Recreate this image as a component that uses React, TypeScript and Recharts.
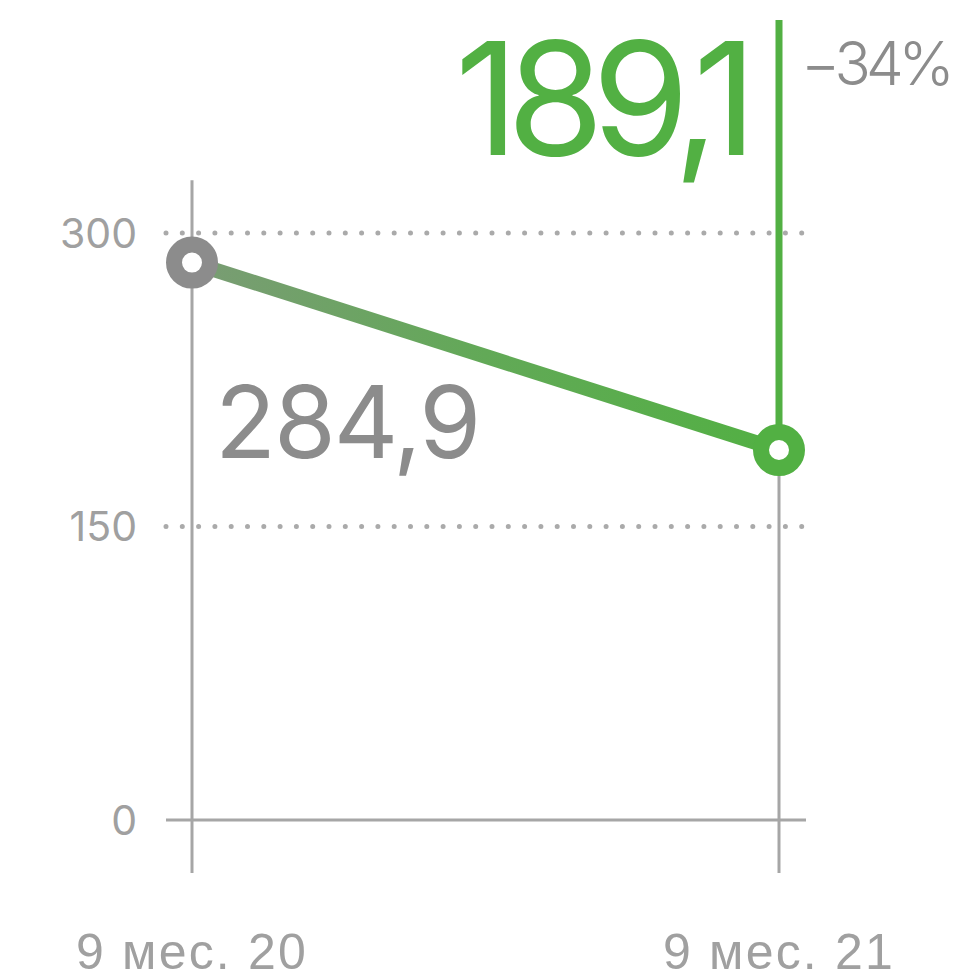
import { LineChart, Line, XAxis, YAxis, CartesianGrid, ReferenceLine, LabelList } from "recharts";

const categories = ["9 мес. 20", "9 мес. 21"];
const values = [284.9, 189.1];
const yTicks = [0, 150, 300];
const gridValues = [150, 300];
const dotColors = ["#8c8c8c", "#52b043"];

const Y_MAX = 408.9;
const FIRST_GUIDE_TOP = 327;

const GRAY = "#8c8c8c";
const LIGHT_GRAY = "#a0a0a0";
const AXIS_GRAY = "#a6a6a6";
const GREEN = "#52b043";
const NUM_FONT = "Inter, Roboto, sans-serif";

const data = categories.map((name, i) => ({ name, value: values[i] }));

const fmt = (v: number) => v.toFixed(1).replace(".", ",");
const change = Math.round((values[1] / values[0] - 1) * 100);
const changeText = `${change < 0 ? "\u2212" : "+"}${Math.abs(change)}%`;

function RingDot(props: any) {
  const { cx, cy, index } = props;
  if (cx == null || cy == null) return null;
  return <circle cx={cx} cy={cy} r={18} fill="#fff" stroke={dotColors[index]} strokeWidth={16} />;
}

function ValueLabel(props: any) {
  const { x, y, value, index } = props;
  if (index === 0) {
    return (
      <text x={x + 23} y={y + 195} fontSize={100} fontFamily={NUM_FONT} fill={GRAY} letterSpacing={-2}>
        {fmt(value)}
      </text>
    );
  }
  return (
    <g>
      <text
        x={x - 34}
        y={y - 295}
        fontSize={157}
        fontFamily={NUM_FONT}
        fill={GREEN}
        textAnchor="end"
        letterSpacing={-12}
      >
        {fmt(value)}
      </text>
      <text
        x={x + 22}
        y={y - 365}
        fontSize={60}
        fontWeight={300}
        fontFamily={NUM_FONT}
        fill={GRAY}
        letterSpacing={-5}
      >
        {changeText}
      </text>
    </g>
  );
}

export default function App() {
  return (
    <div style={{ position: "absolute", left: 0, top: 0, background: "#fff" }}>
      <LineChart width={965} height={978} data={data} margin={{ top: 20, right: 159, bottom: 0, left: 0 }}>
        <defs>
          <linearGradient id="lineGrad" x1="0" y1="0" x2="1" y2="0">
            <stop offset="0" stopColor="#8c8c8c" />
            <stop offset="0.04" stopColor="#789d72" />
            <stop offset="0.5" stopColor="#62a957" />
            <stop offset="1" stopColor={GREEN} />
          </linearGradient>
        </defs>
        <CartesianGrid
          vertical={false}
          horizontalValues={gridValues}
          stroke="#aaaaaa"
          strokeWidth={5}
          strokeDasharray="0 16.3"
          strokeLinecap="round"
        />
        <XAxis
          dataKey="name"
          type="category"
          padding={{ left: 26, right: 27 }}
          height={158}
          tickSize={53}
          tickMargin={60}
          axisLine={{ stroke: AXIS_GRAY, strokeWidth: 3 }}
          tickLine={{ stroke: AXIS_GRAY, strokeWidth: 3 }}
          tick={{
            fill: LIGHT_GRAY,
            fontSize: 50,
            fontFamily: "Liberation Sans, Arial, sans-serif",
            letterSpacing: 2.2,
          }}
          interval={0}
        />
        <YAxis
          domain={[0, Y_MAX]}
          ticks={yTicks}
          width={166}
          axisLine={false}
          tickLine={false}
          tickSize={0}
          tickMargin={29}
          tick={{ fill: LIGHT_GRAY, fontSize: 41, fontFamily: NUM_FONT }}
        />
        <ReferenceLine
          segment={[
            { x: categories[0], y: 0 },
            { x: categories[0], y: FIRST_GUIDE_TOP },
          ]}
          stroke={AXIS_GRAY}
          strokeWidth={3}
        />
        <ReferenceLine
          segment={[
            { x: categories[1], y: 0 },
            { x: categories[1], y: values[1] },
          ]}
          stroke={AXIS_GRAY}
          strokeWidth={3}
        />
        <ReferenceLine
          segment={[
            { x: categories[1], y: values[1] },
            { x: categories[1], y: Y_MAX },
          ]}
          stroke={GREEN}
          strokeWidth={7}
        />
        <Line
          dataKey="value"
          stroke="url(#lineGrad)"
          strokeWidth={15}
          dot={<RingDot />}
          activeDot={false}
          isAnimationActive={false}
        >
          <LabelList dataKey="value" content={<ValueLabel />} />
        </Line>
      </LineChart>
    </div>
  );
}
